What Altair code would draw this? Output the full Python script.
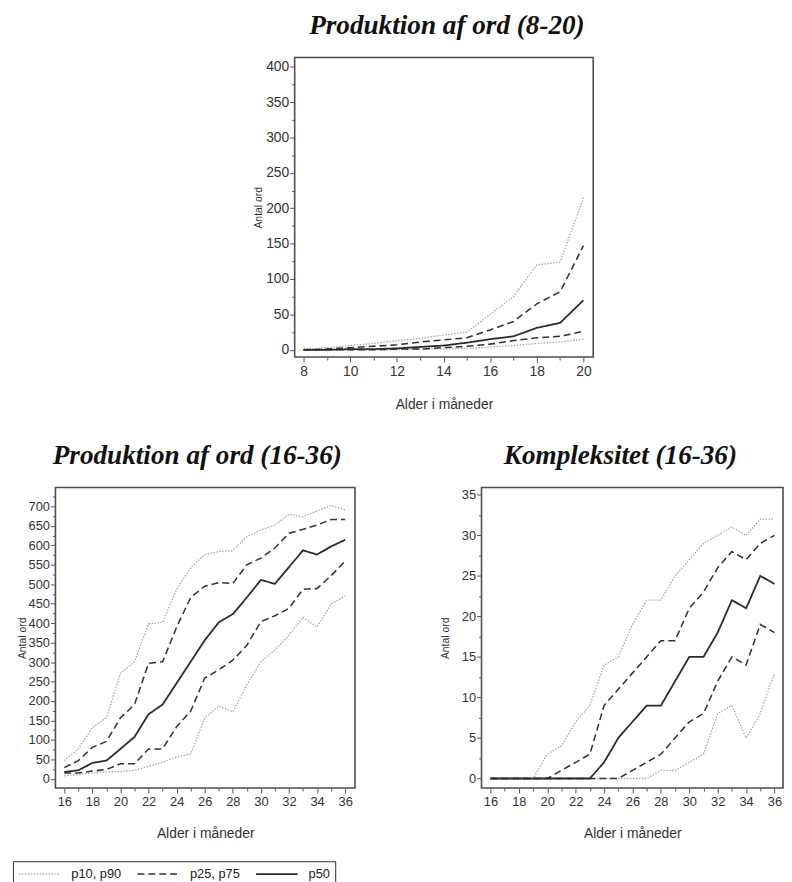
import altair as alt
import pandas as pd

# ---------------- data ----------------
months_a = list(range(8, 21))
a_p10 = [0, 0, 0, 0, 0, 1, 1, 2, 4, 6, 9, 11, 15]
a_p25 = [0, 0, 0, 0, 1, 1, 3, 5, 8, 13, 17, 19, 26]
a_p50 = [0, 0, 1, 1, 2, 4, 6, 10, 15, 19, 31, 38, 70]
a_p75 = [0, 1, 3, 5, 7, 11, 14, 17, 28, 40, 65, 82, 147]
a_p90 = [1, 3, 6, 9, 13, 16, 21, 25, 50, 75, 120, 124, 215]

months_b = list(range(16, 37))
b_p10 = [8, 12, 15, 18, 19, 22, 32, 43, 56, 64, 157, 187, 172, 242, 301, 331, 369, 415, 390, 449, 470]
b_p25 = [15, 15, 20, 24, 39, 39, 77, 77, 134, 174, 259, 280, 305, 343, 404, 419, 438, 487, 489, 522, 559]
b_p50 = [18, 22, 41, 47, 77, 108, 166, 191, 246, 301, 356, 402, 423, 466, 511, 501, 544, 587, 576, 597, 614]
b_p75 = [29, 47, 81, 96, 157, 191, 297, 301, 390, 466, 495, 504, 502, 550, 567, 593, 631, 641, 652, 666, 666]
b_p90 = [47, 77, 132, 157, 271, 301, 398, 402, 487, 542, 576, 584, 586, 622, 639, 652, 680, 673, 688, 702, 691]

c_p10 = [0, 0, 0, 0, 0, 0, 0, 0, 0, 0, 0, 0, 1, 1, 2, 3, 8, 9, 5, 8, 13]
c_p25 = [0, 0, 0, 0, 0, 0, 0, 0, 0, 0, 1, 2, 3, 5, 7, 8, 12, 15, 14, 19, 18]
c_p50 = [0, 0, 0, 0, 0, 0, 0, 0, 2, 5, 7, 9, 9, 12, 15, 15, 18, 22, 21, 25, 24]
c_p75 = [0, 0, 0, 0, 0, 1, 2, 3, 9, 11, 13, 15, 17, 17, 21, 23, 26, 28, 27, 29, 30]
c_p90 = [0, 0, 0, 0, 3, 4, 7, 9, 14, 15, 19, 22, 22, 25, 27, 29, 30, 31, 30, 32, 32]

titles = ["Produktion af ord (8-20)", "Produktion af ord (16-36)", "Kompleksitet (16-36)"]
x_title = "Alder i måneder"
y_title = "Antal ord"

SERIES = ["p10", "p25", "p50", "p75", "p90"]
BAND = {"p10": "p10, p90", "p90": "p10, p90", "p25": "p25, p75", "p75": "p25, p75", "p50": "p50"}
BANDS = ["p10, p90", "p25, p75", "p50"]

SANS = "Liberation Sans"
SERIF = "Liberation Serif"


def long_df(months, cols):
    rows = []
    for name, vals in zip(SERIES, cols):
        for m, v in zip(months, vals):
            rows.append({"month": m, "value": v, "series": name, "band": BAND[name]})
    return pd.DataFrame(rows)


df_a = long_df(months_a, [a_p10, a_p25, a_p50, a_p75, a_p90])
df_b = long_df(months_b, [b_p10, b_p25, b_p50, b_p75, b_p90])
df_c = long_df(months_b, [c_p10, c_p25, c_p50, c_p75, c_p90])

# legend swatch: a long horizontal stroke (custom symbol path) with a small nominal size
legend = alt.Legend(
    title=None, orient="none", legendX=-43, legendY=813,
    direction="horizontal", columns=3,
    symbolType="M-1,0H5", symbolSize=196, symbolStrokeWidth=1.6, symbolFillColor="transparent",
    labelFont=SANS, labelFontSize=13, labelColor="#222",
    strokeColor="#333", padding=5, columnPadding=12, labelOffset=38,
)
color_scale = alt.Scale(domain=BANDS, range=["#a6a6a6", "#333333", "#2b2b2b"])
dash_scale = alt.Scale(domain=BANDS, range=[[1.5, 1.5], [7, 4], [1, 0]])
width_scale = alt.Scale(domain=BANDS, range=[1.3, 1.8, 1.7])


def make_axis(values, step, title, label_size, title_size, title_pad, label_pad):
    return alt.Axis(
        values=values,
        labelExpr=f"datum.value % {step} === 0 ? datum.label : ''",
        tickSize={"condition": {"test": f"datum.value % {step} === 0", "value": 5}, "value": 3},
        domain=False, grid=False, labelOverlap=False, labelFlush=False,
        labelFont=SANS, labelFontSize=label_size, labelColor="#333", labelPadding=label_pad,
        tickColor="#555", tickWidth=1,
        title=title, titleFont=SANS, titleFontSize=title_size, titleFontWeight="normal",
        titleColor="#333", titlePadding=title_pad,
    )


def panel(df, title, dx, xdom, xvals, ydom, yvals, ystep, w, h, lsize, ytp, xtp):
    xax = make_axis(xvals, 2, x_title, lsize, 14, xtp, 3)
    yax = make_axis(yvals, ystep, y_title, lsize, 10.5, ytp, 1)
    layers = []
    for band in BANDS:
        layers.append(
            alt.Chart(df[df["band"] == band]).mark_line().encode(
                x=alt.X("month:Q", scale=alt.Scale(domain=xdom, nice=False, zero=False), axis=xax),
                y=alt.Y("value:Q", scale=alt.Scale(domain=ydom, nice=False, zero=False), axis=yax),
                detail="series:N",
                color=alt.Color("band:N", scale=color_scale, legend=legend),
                strokeDash=alt.StrokeDash("band:N", scale=dash_scale, legend=legend),
                strokeWidth=alt.StrokeWidth("band:N", scale=width_scale, legend=None),
            )
        )
    return alt.layer(*layers).properties(
        width=w, height=h,
        title=alt.TitleParams(
            text=title, font=SERIF, fontSize=27.5, fontStyle="italic", fontWeight="bold",
            color="#111", anchor="middle", frame="group", offset=-4,
            baseline="alphabetic", dx=dx,
        ),
        view=alt.ViewBackground(stroke="#4d4d4d", strokeWidth=1.6),
    )


top = panel(df_a, titles[0], 3, [7.62, 20.42], months_a, [-10.3, 413], list(range(0, 401, 25)), 50,
            302, 303, 14, 2, 19)
left = panel(df_b, titles[1], -8, [15.37, 36.7], months_b, [-23.6, 748.2], list(range(0, 726, 25)), 50,
             303, 304, 13, 1, 18)
right = panel(df_c, titles[2], -12, [15.37, 36.6], months_b, [-1.18, 35.89],
              [i * 2.5 for i in range(15)], 5, 305, 304, 13, 11, 18)

spacer = alt.Chart(pd.DataFrame({"v": [0]})).mark_point(opacity=0).encode(
    x=alt.X("v:Q", axis=None), y=alt.Y("v:Q", axis=None)
).properties(width=198, height=1, view=alt.ViewBackground(stroke="transparent"))

top_row = alt.hconcat(spacer, top, spacing=0)
bottom_row = alt.hconcat(left, right, spacing=84)

chart = alt.vconcat(top_row, bottom_row, spacing=29).properties(
    padding={"left": 4, "top": -2, "right": 0, "bottom": 0}
).configure(font=SANS)

chart.save("out.html", embed_options={"renderer": "svg", "actions": False})
